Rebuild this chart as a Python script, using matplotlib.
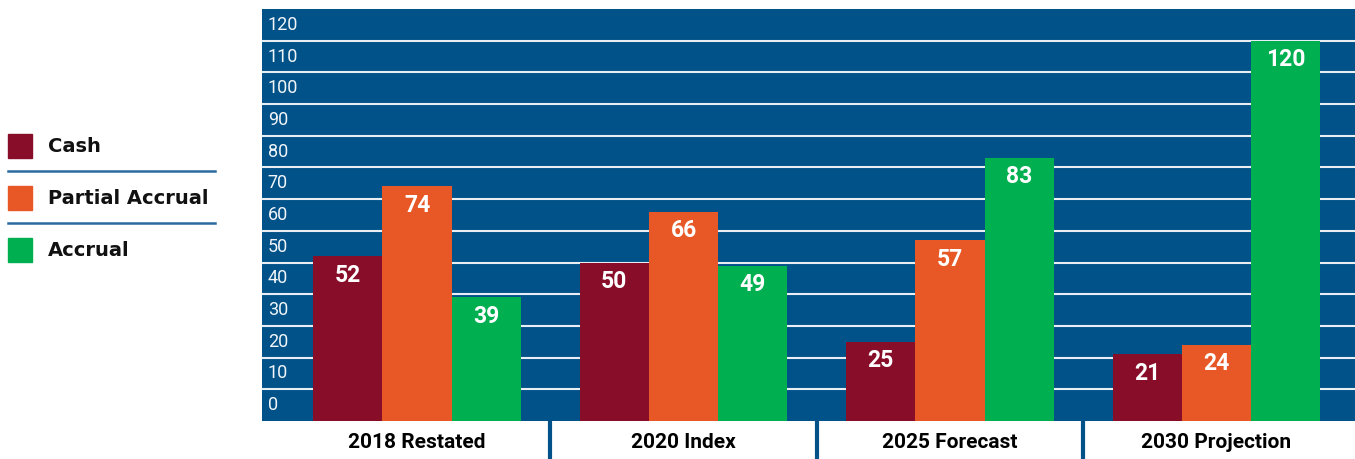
import matplotlib.pyplot as plt
import matplotlib.patches as mpatches
import matplotlib.lines as mlines
import numpy as np

categories = ['2018 Restated', '2020 Index', '2025 Forecast', '2030 Projection']
series = ['Cash', 'Partial Accrual', 'Accrual']
cash = [52, 50, 25, 21]
partial = [74, 66, 57, 24]
accrual = [39, 49, 83, 120]
ticks = list(range(0, 130, 10))

colors = ['#880D29', '#E85726', '#00AF50']
bg = '#005288'
narrow = ['Roboto', 'DejaVu Sans']

W, H = 1355, 459
fig = plt.figure(figsize=(W / 100, H / 100), dpi=100)
ax = fig.add_axes([262 / W, (H - 421) / H, 1 - 262 / W, (421 - 9) / H])
ax.set_facecolor(bg)
ax.set_xlim(-0.582, 3.52)
ax.set_ylim(0, 130)

# gridlines + tick labels sitting inside the band above each line
for t in ticks:
    if t > 0:
        ax.axhline(t, color='#e8eef4', lw=1.5, zorder=1)
    ax.text(-0.56, t + 5, str(t), color='#f2f5f9', fontsize=13,
            family=narrow, fontweight='normal', va='center', ha='left', zorder=2)

x = np.arange(len(categories))
w = 0.26
for i, vals in enumerate([cash, partial, accrual]):
    xs = x + (i - 1) * w
    ax.bar(xs, vals, width=w, color=colors[i], zorder=3, linewidth=0)
    for xi, v in zip(xs, vals):
        ax.text(xi, v - 6, str(v), color='white', fontsize=16.5, fontweight='bold',
                family=narrow, ha='center', va='center', zorder=4)

ax.set_xticks([])
ax.set_yticks([])
for s in ax.spines.values():
    s.set_visible(False)

# category labels and separators below the plot
trans = ax.get_xaxis_transform()
for xi, c in zip(x, categories):
    ax.text(xi, -22 / 412, c, transform=trans, ha='center', va='center',
            fontsize=15, fontweight='bold', family=narrow,
            color='black', clip_on=False)
for xs in [0.5, 1.5, 2.5]:
    ax.add_line(mlines.Line2D([xs, xs], [0, -38 / 412], transform=trans,
                              color=bg, lw=3, clip_on=False))

# legend
ys = [146, 198, 250]
for y, lab, col in zip(ys, series, colors):
    fig.add_artist(mpatches.Rectangle((8 / W, (H - y - 12) / H), 24 / W, 24 / H,
                                      transform=fig.transFigure, color=col))
    fig.text(48 / W, (H - y) / H, lab, fontsize=14, fontweight='bold',
             va='center', ha='left', color='#111111')
for y in [171, 223]:
    fig.add_artist(mlines.Line2D([8 / W, 215 / W], [(H - y) / H] * 2,
                                 transform=fig.transFigure, color='#2a6aa0', lw=1.8))

fig.savefig('out.png', dpi=100)
